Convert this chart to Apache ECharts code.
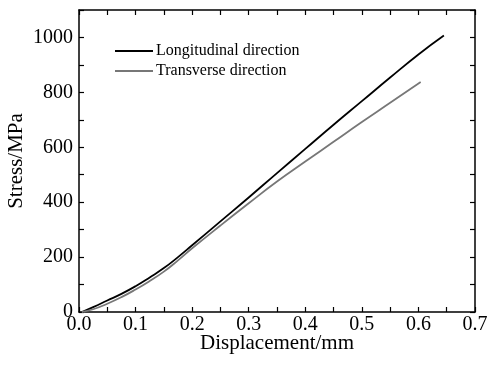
<!DOCTYPE html>
<html>
<head>
<meta charset="utf-8">
<script src="https://cdn.jsdelivr.net/npm/echarts@6/dist/echarts.min.js"></script>
<style>
  html, body { margin: 0; padding: 0; background: #fff; }
  #chart { width: 490px; height: 367px; }
</style>
</head>
<body>
<div id="chart"></div>
<script>
// displacement (mm) / stress (MPa)
var longDisp   = [0.005, 0.025, 0.05, 0.075, 0.1, 0.125, 0.15, 0.175, 0.2, 0.25, 0.3, 0.35, 0.4, 0.45, 0.5, 0.55, 0.6, 0.645];
var longStress = [0, 18, 42, 66, 94, 126, 160, 200, 243, 330, 417, 506, 594, 682, 768, 854, 938, 1007];
var tranDisp   = [0.005, 0.025, 0.05, 0.075, 0.1, 0.125, 0.15, 0.175, 0.2, 0.25, 0.3, 0.35, 0.4, 0.45, 0.5, 0.55, 0.604];
var tranStress = [0, 10, 30, 54, 82, 113, 147, 188, 232, 315, 396, 475, 548, 620, 692, 762, 838];
var seriesNames = ['Longitudinal direction', 'Transverse direction'];

function pairs(xs, ys) {
  var out = [];
  for (var i = 0; i < xs.length; i++) out.push([xs[i], ys[i]]);
  return out;
}

var font = 'Liberation Serif';
var chart = echarts.init(document.getElementById('chart'));

// every tick (major + minor) drawn as a normal inside tick, labels only on majors
var boxAxis = {
  axisLine: { show: true, onZero: false, lineStyle: { color: '#000', width: 1.5 } },
  axisTick: { show: true, inside: true, length: 5, lineStyle: { color: '#000', width: 1.2 } },
  splitLine: { show: false }
};

chart.setOption({
  animation: false,
  grid: { left: 79, right: 15, top: 10, bottom: 55, outerBoundsMode: 'none', containLabel: false },
  legend: {
    orient: 'vertical',
    left: 110,
    top: 38,
    itemWidth: 38,
    itemHeight: 2,
    itemGap: 4,
    icon: 'rect',
    textStyle: { fontFamily: font, fontSize: 16, color: '#000', padding: [0, 0, 0, -2] },
    data: seriesNames
  },
  xAxis: [
    Object.assign({}, boxAxis, {
      type: 'value', min: 0, max: 0.7, interval: 0.05,
      name: 'Displacement/mm', nameLocation: 'middle', nameGap: 21, nameMoveOverlap: false,
      nameTextStyle: { fontFamily: font, fontSize: 21, color: '#000' },
      axisLabel: { fontFamily: font, fontSize: 20, color: '#000', margin: 3,
        formatter: function (v) { return Math.round(v * 100) % 10 === 0 ? v.toFixed(1) : ''; } }
    }),
    Object.assign({}, boxAxis, {
      type: 'value', position: 'top', min: 0, max: 0.7, interval: 0.05,
      axisLabel: { show: false }
    })
  ],
  yAxis: [
    Object.assign({}, boxAxis, {
      type: 'value', min: 0, max: 1100, interval: 100,
      name: 'Stress/MPa', nameLocation: 'middle', nameGap: 52, nameMoveOverlap: false,
      nameTextStyle: { fontFamily: font, fontSize: 21, color: '#000' },
      axisLabel: { fontFamily: font, fontSize: 20, color: '#000', margin: 6,
        formatter: function (v) { return v % 200 === 0 ? String(v) : ''; } }
    }),
    Object.assign({}, boxAxis, {
      type: 'value', position: 'right', min: 0, max: 1100, interval: 100,
      axisLabel: { show: false }
    })
  ],
  series: [
    {
      name: seriesNames[0], type: 'line', smooth: true, showSymbol: false,
      data: pairs(longDisp, longStress),
      itemStyle: { color: '#000' },
      lineStyle: { color: '#000', width: 1.8 }
    },
    {
      name: seriesNames[1], type: 'line', smooth: true, showSymbol: false,
      data: pairs(tranDisp, tranStress),
      itemStyle: { color: '#777' },
      lineStyle: { color: '#777', width: 1.8 }
    }
  ]
});
</script>
</body>
</html>
